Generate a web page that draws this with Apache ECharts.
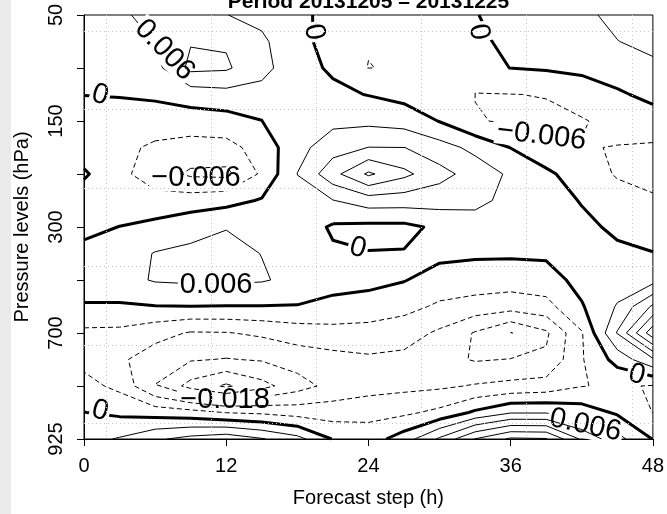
<!DOCTYPE html>
<html>
<head>
<meta charset="utf-8">
<script src="https://cdn.jsdelivr.net/npm/echarts@6/dist/echarts.min.js"></script>
<style>
  html, body { margin: 0; padding: 0; background: #ffffff; }
  #chart { width: 667px; height: 514px; }
</style>
</head>
<body>
<div id="chart"></div>
<script>
// Forecast steps (h) of the analysis grid columns
const steps = [0, 3, 6, 9, 12, 15, 18, 21, 24, 27, 30, 33, 36, 39, 42, 45, 48];
// Pressure-level position of the grid rows (0 = 50 hPa at the top, 8 = 925 hPa at the bottom)
const levelRows = [0, 0.5, 1, 1.5, 2, 2.5, 3, 3.5, 4, 4.5, 5, 5.5, 6, 6.5, 7, 7.5, 8];
// Pressure tick labels, on every second level row
const pressureTicks = ['50', '150', '300', '700', '925'];
const stepTicks = [0, 12, 24, 36, 48];

// Field values in units of 1e-3, one row per level row (top to bottom), one column per step
const field = [
  [3, 5, 8, 9.5, 6.1, 4.5, 1.5, -2, -3.5, -3.5, -3, -0.3, 2.5, 4, 5, 7.2, 9],
  [2.5, 4.2, 6.1, 11.6, 11.4, 7, 2, -2.5, -5.5, -4, -3, -1.2, 1.3, 2.5, 3.5, 5.9, 7.3],
  [1.8, 3, 4, 13.5, 12.8, 8, 2, -0.8, -6.2, -5, -3.5, -2.5, 0.1, 0.6, 1.2, 2.8, 5],
  [0.1, 0.4, 1, 2.8, 3.9, 3.8, 2.5, 1.2, -0.2, -1.8, -2.5, -6.2, -6.1, -5.8, -3.1, -0.8, 1.5],
  [-2.5, -3, -3, -2.9, -2.4, -0.1, 3, 4.5, 4.5, 3.4, -0.2, -5.5, -6.8, -7, -6.5, -4, -2.5],
  [-3, -4.5, -7, -8.3, -8, -3.5, 4, 9.4, 12.1, 12.1, 8.4, 4.4, -0.15, -4.2, -5.7, -6.2, -6.8],
  [0.8, -4.5, -9, -13, -13.5, -5, 6.1, 16, 25, 19.5, 14, 9.5, 5, 1.2, -3.1, -6.5, -8],
  [-3, -3.5, -4, -3.1, -2, 0.5, 3.5, 5.8, 9, 8.8, 8.5, 7.4, 4.5, 3, -0.4, -3.8, -5.2],
  [-1.5, 0.1, 1.7, 3.9, 5.8, 3, 3.5, -0.8, -1.5, -1.5, 1.2, 3.5, 2.8, 3, 1.5, -1.2, -2.8],
  [1.6, 3, 6.3, 7.3, 7.5, 5.9, 4.5, 0.8, 0.2, 0.3, 1.5, 0.8, 0.8, 1, 2.2, 1.2, 0.2],
  [3.5, 4, 6.5, 7, 7, 6.5, 4.5, 2, 2, 0.3, -2.6, -2.7, -3.2, -2.6, 2, 3, 3.8],
  [-0.6, -0.7, -0.2, -0.1, -0.2, -0.2, -0.3, -1.5, -3, -4.2, -6.9, -8.5, -9.5, -8, -0.5, 6.5, 19],
  [-7.3, -7.5, -10, -12.5, -12.3, -11, -9.2, -8.2, -8, -9.4, -13, -18.5, -24.3, -19, -6.5, 12.5, 34],
  [-7.8, -11, -15, -17.5, -18.3, -17.5, -15.3, -14, -13, -13.5, -16, -18.5, -17.8, -17, -6.5, 2.2, 11],
  [-4, -7.5, -18.2, -26, -31, -26, -20.5, -16, -14.5, -13.5, -13, -11.5, -10.4, -9.5, -6.2, -5.2, -6.4],
  [0.1, -1.2, -2.5, -3.8, -6.2, -7, -8.5, -9, -7.8, -7.2, -4.5, 1, 5.5, 5.5, 3, -0.8, -6.1],
  [4, 6.5, 11, 14, 16, 12.5, 8, -0.3, -3, 3, 13, 24.3, 31, 30.5, 17, 8, -0.2]
];

// Contour levels, units of 1e-3
const contourLevels = [-30, -24, -18, -12, -6, 0, 6, 12, 18, 24, 30];

// In-line contour labels: level, step (h), level row, text rotation (deg)
const labelSpots = [
  { level: 6,   step: 6.8,  row: 0.66, rotate: -46 },
  { level: 0,   step: 1.35, row: 1.51, rotate: -15 },
  { level: 0,   step: 19.4, row: 0.32, rotate: -80 },
  { level: 0,   step: 33.3, row: 0.32, rotate: -80 },
  { level: -6,  step: 9.45, row: 3.08, rotate: 0 },
  { level: -6,  step: 38.6, row: 2.28, rotate: -7 },
  { level: 0,   step: 23.1, row: 4.4,  rotate: -15 },
  { level: 6,   step: 11.15, row: 5.1, rotate: 0 },
  { level: 0,   step: 46.65, row: 6.79, rotate: -15 },
  { level: -18, step: 11.9, row: 7.26, rotate: 0 },
  { level: 0,   step: 1.35, row: 7.47, rotate: -15 },
  { level: 6,   step: 42.3, row: 7.74, rotate: -12 }
];

// Positions of the dotted reference grid (step hours / level rows)
const guideSteps = [1.86, 10.73, 19.6, 28.47, 37.35, 46.22];
const guideRows = [0.3, 1.78, 3.26, 4.74, 6.23, 7.71];

const FONT = 'Liberation Sans, Arial, Helvetica, sans-serif';

function levelText(L) {
  if (L === 0) return '0';
  return (L < 0 ? '\u2212' : '') + (Math.abs(L) / 1000).toFixed(3);
}

// Marching squares on the field for one level; returns edge-keyed segments and crossing points
function contourSegments(level) {
  const nr = field.length, nc = field[0].length;
  const pts = new Map();
  const hEdge = (i, j) => {
    const key = 'h' + i + '_' + j;
    if (!pts.has(key)) {
      const a = field[j][i], b = field[j][i + 1];
      const t = (level - a) / (b - a);
      pts.set(key, [steps[i] + t * (steps[i + 1] - steps[i]), levelRows[j]]);
    }
    return key;
  };
  const vEdge = (i, j) => {
    const key = 'v' + i + '_' + j;
    if (!pts.has(key)) {
      const a = field[j][i], b = field[j + 1][i];
      const t = (level - a) / (b - a);
      pts.set(key, [steps[i], levelRows[j] + t * (levelRows[j + 1] - levelRows[j])]);
    }
    return key;
  };
  const segs = [];
  for (let j = 0; j < nr - 1; j++) {
    for (let i = 0; i < nc - 1; i++) {
      const tl = field[j][i], tr = field[j][i + 1], br = field[j + 1][i + 1], bl = field[j + 1][i];
      const a = tl > level, b = tr > level, c = br > level, d = bl > level;
      const edges = {};
      if (a !== b) edges.top = hEdge(i, j);
      if (b !== c) edges.right = vEdge(i + 1, j);
      if (c !== d) edges.bottom = hEdge(i, j + 1);
      if (d !== a) edges.left = vEdge(i, j);
      const keys = Object.keys(edges);
      if (keys.length === 2) {
        segs.push([edges[keys[0]], edges[keys[1]]]);
      } else if (keys.length === 4) {
        const centerAbove = (tl + tr + br + bl) / 4 > level;
        const cutCorners = (a === centerAbove);
        if (cutCorners) {
          segs.push([edges.top, edges.right]);
          segs.push([edges.bottom, edges.left]);
        } else {
          segs.push([edges.left, edges.top]);
          segs.push([edges.right, edges.bottom]);
        }
      }
    }
  }
  return { segs, pts };
}

// Join segments that share an edge crossing into polylines
function tracePolylines(segs) {
  const byEdge = new Map();
  segs.forEach((s, k) => {
    s.forEach(e => {
      if (!byEdge.has(e)) byEdge.set(e, []);
      byEdge.get(e).push(k);
    });
  });
  const used = new Array(segs.length).fill(false);
  const walk = (startK, startEdge) => {
    const chain = [startEdge];
    let k = startK, e = startEdge;
    while (k !== undefined && !used[k]) {
      used[k] = true;
      const s = segs[k];
      const next = s[0] === e ? s[1] : s[0];
      chain.push(next);
      e = next;
      k = byEdge.get(e).find(q => !used[q]);
    }
    return chain;
  };
  const lines = [];
  for (const [e, list] of byEdge) {
    if (list.length === 1 && !used[list[0]]) lines.push(walk(list[0], e));
  }
  for (let k = 0; k < segs.length; k++) {
    if (!used[k]) lines.push(walk(k, segs[k][0]));
  }
  return lines;
}

const chart = echarts.init(document.getElementById('chart'), null, { renderer: 'canvas' });

const baseOption = {
  animation: false,
  backgroundColor: '#ffffff',
  grid: {
    left: 84, right: 14, top: 15, bottom: 75,
    show: true, borderColor: '#000', borderWidth: 1, backgroundColor: 'transparent'
  },
  xAxis: {
    type: 'value', min: 0, max: 48, interval: 12,
    name: 'Forecast step (h)', nameLocation: 'middle', nameGap: 49,
    nameTextStyle: { fontSize: 20, color: '#000', fontFamily: FONT },
    axisLine: { show: true, onZero: false, lineStyle: { color: '#000', width: 1 } },
    axisTick: { show: true, length: 7, lineStyle: { color: '#000' } },
    axisLabel: {
      fontSize: 20, color: '#000', fontFamily: FONT, margin: 17,
      formatter: v => (stepTicks.indexOf(v) >= 0 ? String(v) : '')
    },
    splitLine: { show: false }
  },
  yAxis: {
    type: 'value', min: 0, max: 8, interval: 1, inverse: true,
    name: 'Pressure levels (hPa)', nameLocation: 'middle', nameGap: 52,
    nameTextStyle: { fontSize: 20, color: '#000', fontFamily: FONT },
    axisLine: { show: true, onZero: false, lineStyle: { color: '#000', width: 1 } },
    axisTick: { show: true, length: 7, lineStyle: { color: '#000' } },
    axisLabel: {
      fontSize: 20, color: '#000', fontFamily: FONT, margin: 18, rotate: 90,
      formatter: v => (v % 2 === 0 ? pressureTicks[v / 2] : '')
    },
    splitLine: { show: false }
  },
  graphic: [
    { type: 'rect', shape: { x: 0, y: 0, width: 11, height: 514 }, style: { fill: '#ebebeb' }, z: 0, silent: true },
    {
      type: 'text', x: 368.5, y: 2, silent: true, z: 10,
      style: {
        text: 'Period 20131205 \u2013 20131225', fill: '#000',
        font: 'bold 21px ' + FONT, textAlign: 'center', textVerticalAlign: 'middle'
      }
    }
  ],
  series: []
};

chart.setOption(baseOption);

const toPx = p => chart.convertToPixel({ gridIndex: 0 }, p);

function distToPolyline(pt, polyPx) {
  let best = Infinity;
  for (let k = 0; k < polyPx.length - 1; k++) {
    const [x1, y1] = polyPx[k], [x2, y2] = polyPx[k + 1];
    const dx = x2 - x1, dy = y2 - y1;
    const len2 = dx * dx + dy * dy || 1;
    let t = ((pt[0] - x1) * dx + (pt[1] - y1) * dy) / len2;
    t = Math.max(0, Math.min(1, t));
    const qx = x1 + t * dx, qy = y1 + t * dy;
    best = Math.min(best, Math.hypot(pt[0] - qx, pt[1] - qy));
  }
  return best;
}

// Build all contour polylines
const contours = [];
contourLevels.forEach(L => {
  const { segs, pts } = contourSegments(L);
  tracePolylines(segs).forEach(chain => {
    contours.push({ level: L, data: chain.map(e => pts.get(e)), labelled: false });
  });
});

// The contour carrying each label sits beneath the label box
labelSpots.forEach(s => {
  const c = toPx([s.step, s.row]);
  let best = null, bestD = Infinity;
  contours.forEach(ct => {
    if (ct.level !== s.level) return;
    const d = distToPolyline(c, ct.data.map(toPx));
    if (d < bestD) { bestD = d; best = ct; }
  });
  if (best) best.labelled = true;
});

const series = [];

// dotted guide grid
series.push({
  type: 'line', data: [], silent: true, z: 1,
  markLine: {
    silent: true, symbol: ['none', 'none'], animation: false,
    label: { show: false },
    lineStyle: { color: '#c6c6c6', type: [1, 3], width: 1 },
    data: guideSteps.map(v => ({ xAxis: v })).concat(guideRows.map(v => ({ yAxis: v })))
  }
});

contours.forEach(ct => {
  series.push({
    type: 'line',
    data: ct.data,
    showSymbol: false, symbol: 'none', silent: true, clip: true,
    z: ct.labelled ? 2 : 4,
    lineStyle: {
      color: '#000',
      width: ct.level === 0 ? 3 : 1,
      type: ct.level < 0 ? [5, 3] : 'solid',
      cap: 'butt', join: 'round'
    }
  });
});

series.push({
  type: 'scatter',
  z: 3, silent: true,
  symbol: 'circle', symbolSize: 0,
  itemStyle: { color: '#000', opacity: 1 },
  data: labelSpots.map(s => ({
    name: levelText(s.level),
    value: [s.step, s.row],
    label: { rotate: s.rotate }
  })),
  label: {
    show: true, position: 'inside', formatter: '{b}',
    fontSize: 29, fontFamily: FONT, color: '#000', opacity: 1,
    textBorderWidth: 0, textShadowBlur: 0,
    backgroundColor: '#ffffff', padding: [0, 2], lineHeight: 26
  }
});

chart.setOption({ series: series });
</script>
</body>
</html>
